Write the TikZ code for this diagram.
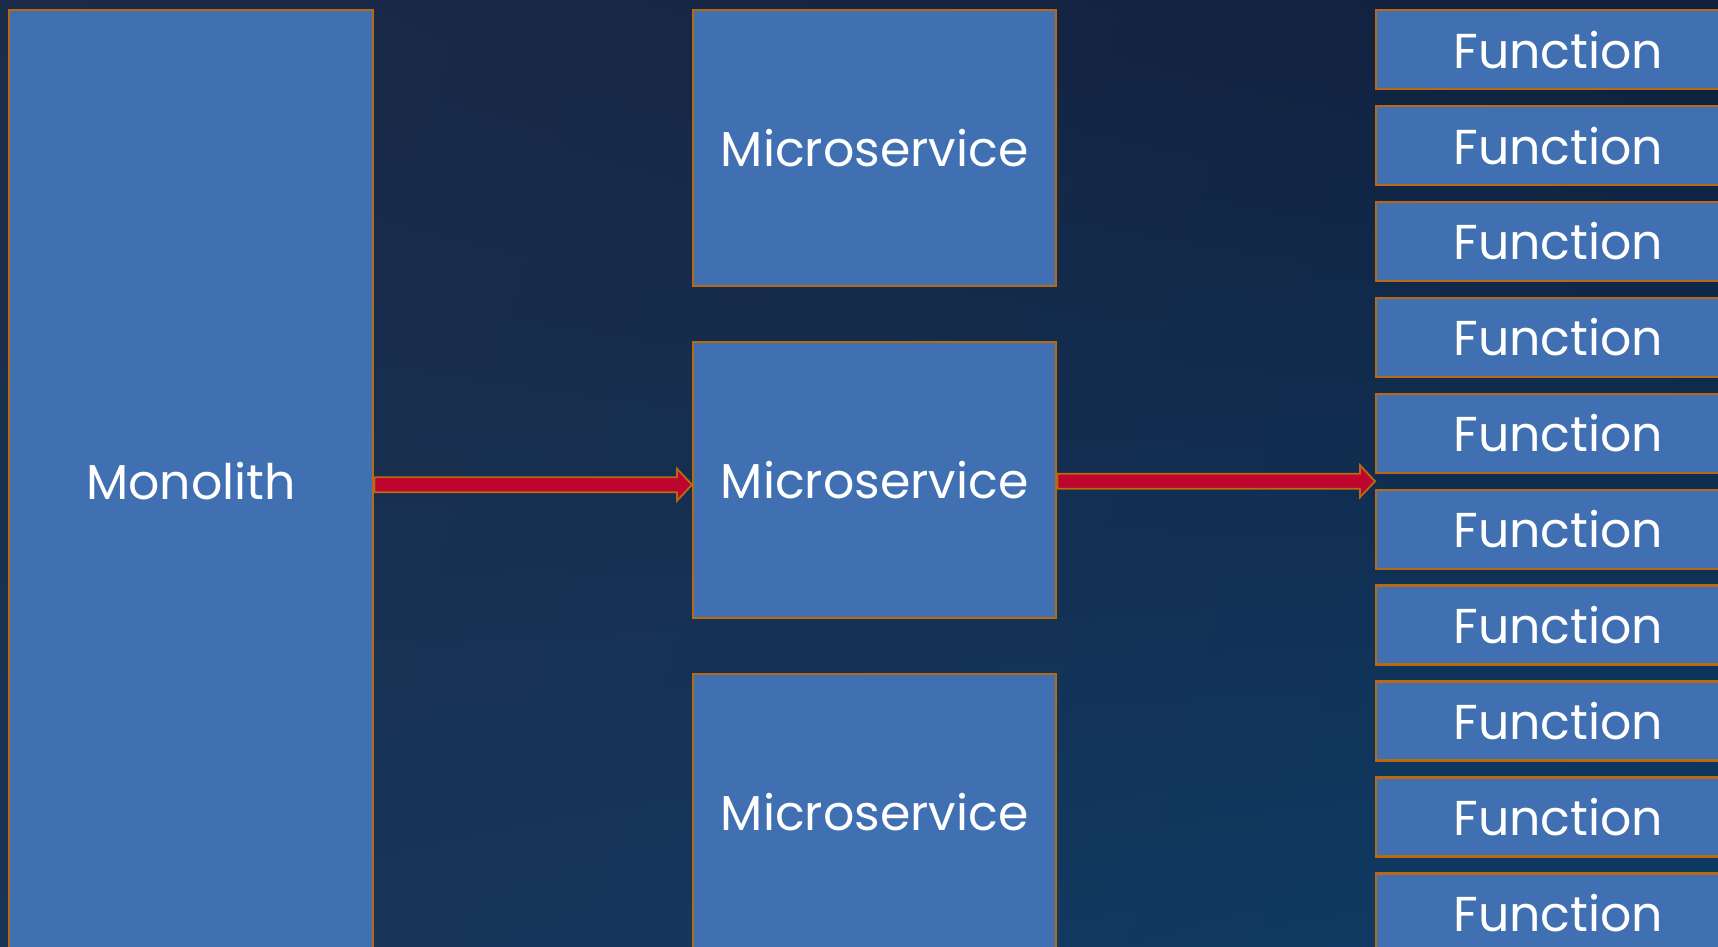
\documentclass[tikz,border=0pt]{standalone}
\usepackage{fontspec}
\setmainfont{Poppins}
\usetikzlibrary{calc,shadings}
\definecolor{boxblue}{HTML}{4170B2}
\definecolor{boxedge}{HTML}{B86A10}
\definecolor{arrred}{HTML}{BE0530}
\definecolor{bgA}{HTML}{1C2B4A}
\definecolor{bgB}{HTML}{0F1F3C}
\definecolor{bgC}{HTML}{1A3456}
\definecolor{bgD}{HTML}{0D3C66}
\tikzset{
  blk/.style={draw=boxedge, line width=2.4pt, fill=boxblue, anchor=north west,
    inner sep=0pt, text=white, font=\fontsize{49}{52}\selectfont},
  monobox/.style={blk, minimum width=364pt, minimum height=942pt},
  msbox/.style={blk, minimum width=363pt, minimum height=276pt},
  fnbox/.style={blk, minimum width=364pt, minimum height=79pt},
  fatarrow/.style={draw=boxedge, line width=1.8pt, fill=arrred, line join=miter}
}
\begin{document}
\begin{tikzpicture}[x=1pt, y=-1pt]
\useasboundingbox (0,0) rectangle (1718,946);
\clip (0,0) rectangle (1718,946);
\shade[upper left=bgA, upper right=bgB, lower left=bgC, lower right=bgD] (0,0) rectangle (1718,946);

\node[monobox] (mono) at (8,9) {Monolith};
\node[msbox] (ms1) at (692,9) {Microservice};
\node[msbox] (ms2) at (692,341) {Microservice};
\node[msbox] (ms3) at (692,673) {Microservice};
\foreach \i in {1,...,10} {
  \node[fnbox] (fn\i) at (1375,{9+95.9*(\i-1)}) {Function};
}

% arrow 1: Monolith -> Microservice
\coordinate (a1s) at ($(mono.east |- ms2.west)+(0,4.5)$);
\coordinate (a1e) at ($(ms2.west)+(0,4.5)$);
\draw[fatarrow] ($(a1s)+(0,-7.5)$) -- ($(a1e)+(-15,-7.5)$) -- ($(a1e)+(-15,-16)$)
  -- (a1e) -- ($(a1e)+(-15,16)$) -- ($(a1e)+(-15,7.5)$) -- ($(a1s)+(0,7.5)$) -- cycle;

% arrow 2: Microservice -> Functions
\coordinate (a2e) at ($(fn5.south west)!0.5!(fn6.north west)$);
\coordinate (a2s) at (ms2.east |- a2e);
\draw[fatarrow] ($(a2s)+(0,-7.5)$) -- ($(a2e)+(-15,-7.5)$) -- ($(a2e)+(-15,-16)$)
  -- (a2e) -- ($(a2e)+(-15,16)$) -- ($(a2e)+(-15,7.5)$) -- ($(a2s)+(0,7.5)$) -- cycle;
\end{tikzpicture}
\end{document}
